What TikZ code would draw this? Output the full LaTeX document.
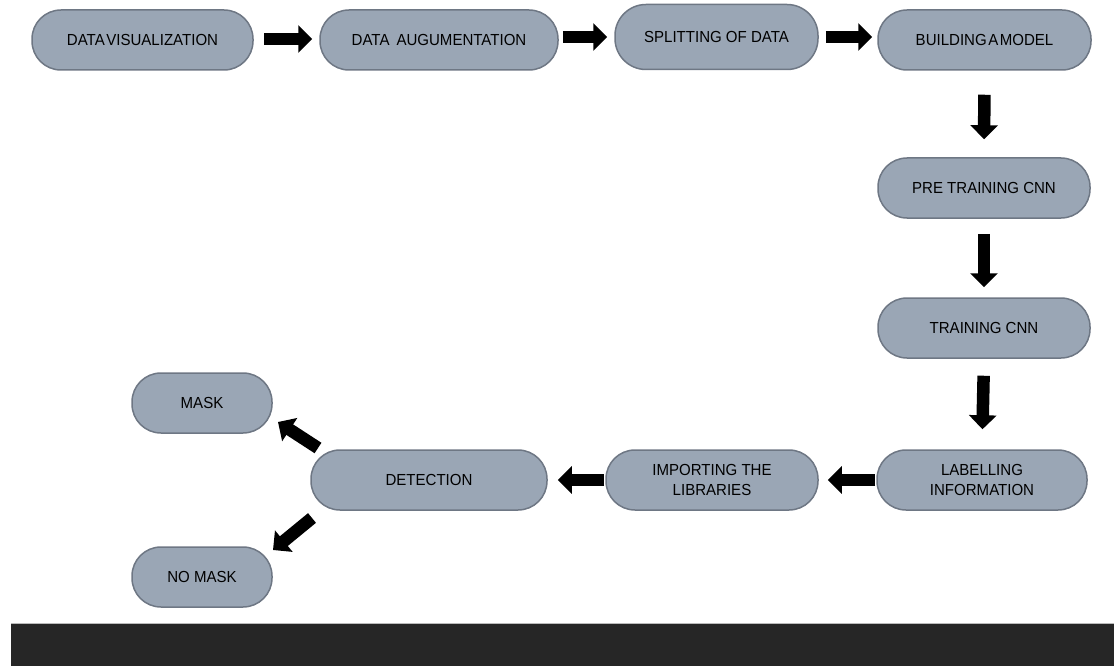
\documentclass[tikz,border=0pt]{standalone}
\usepackage{fontspec}
\setmainfont{Liberation Sans}[FakeStretch=0.94]
\usetikzlibrary{arrows.meta,calc}
\definecolor{boxfill}{HTML}{9AA6B5}
\definecolor{boxline}{HTML}{6E7784}
\definecolor{barfill}{HTML}{262626}
\definecolor{barline}{HTML}{BBBBBB}
\begin{document}
\begin{tikzpicture}[x=1pt,y=-1pt,
  pill/.style={draw=boxline, fill=boxfill, line width=1.5pt, rectangle,
    rounded corners=29pt, minimum height=60pt, inner sep=0pt, align=center,
    font=\fontsize{16}{20.5}\selectfont, text=black},
  bigarrow/.style={draw=black, line width=12.5pt,
    -{Triangle[length=14pt 0 0,width=27pt 0 0]}},
]
\useasboundingbox (0,0) rectangle (1114,666);
% bottom bar
\fill[barfill] (11,623) rectangle (1114,666);
\draw[barline, line width=1pt] (11,623) -- (1114,623);

% nodes
\node[pill, minimum width=221pt] (n1) at (142.5,40) {DATA\hspace{1.5pt}VISUALIZATION};
\node[pill, minimum width=238pt] (n2) at (439,40) {DATA\hspace{7pt}AUGUMENTATION};
\node[pill, minimum width=203pt, minimum height=65pt, rounded corners=31pt] (n3) at (716.5,37) {SPLITTING OF DATA};
\node[pill, minimum width=213pt] (n4) at (984.5,40) {BUILDING\hspace{1.5pt}A\hspace{1.5pt}MODEL};
\node[pill, minimum width=212pt] (n5) at (984,188) {PRE TRAINING CNN};
\node[pill, minimum width=212pt] (n6) at (984,328) {TRAINING CNN};
\node[pill, minimum width=210pt] (n7) at (982,480) {LABELLING\\INFORMATION};
\node[pill, minimum width=212pt] (n8) at (712,480) {IMPORTING THE\\LIBRARIES};
\node[pill, minimum width=236pt] (n9) at (429,480) {DETECTION};
\node[pill, minimum width=140pt] (n10) at (202,403) {MASK};
\node[pill, minimum width=140pt] (n11) at (202,577) {NO MASK};

% connectors
\draw[bigarrow, shorten <=10.5pt, shorten >=7pt] (n1.east |- 0,39) -- (n2.west |- 0,39);
\draw[bigarrow, shorten <=4pt, shorten >=7pt] (n2.east |- n3.west) -- (n3.west);
\draw[bigarrow, shorten <=7pt, shorten >=5pt] (n3.east) -- (n4.west |- n3.east);
\draw[bigarrow, shorten <=24pt, shorten >=18pt] (n4.south) -- (n5.north);
\draw[bigarrow, shorten <=15pt, shorten >=10pt] (n5.south) -- (n6.north);
\draw[bigarrow, shorten <=17pt, shorten >=20pt] (n6.south) -- (n7.north);
\draw[bigarrow, shorten <=1pt, shorten >=9pt] (n7.west) -- (n8.east);
\draw[bigarrow, shorten <=1pt, shorten >=10pt] (n8.west) -- (n9.east);
\coordinate (m1) at (318,448);
\coordinate (m2) at (278,422);
\coordinate (k1) at (312,518);
\coordinate (k2) at (273,550);
\draw[bigarrow] (m1) -- (m2);
\draw[bigarrow] (k1) -- (k2);
\end{tikzpicture}
\end{document}
